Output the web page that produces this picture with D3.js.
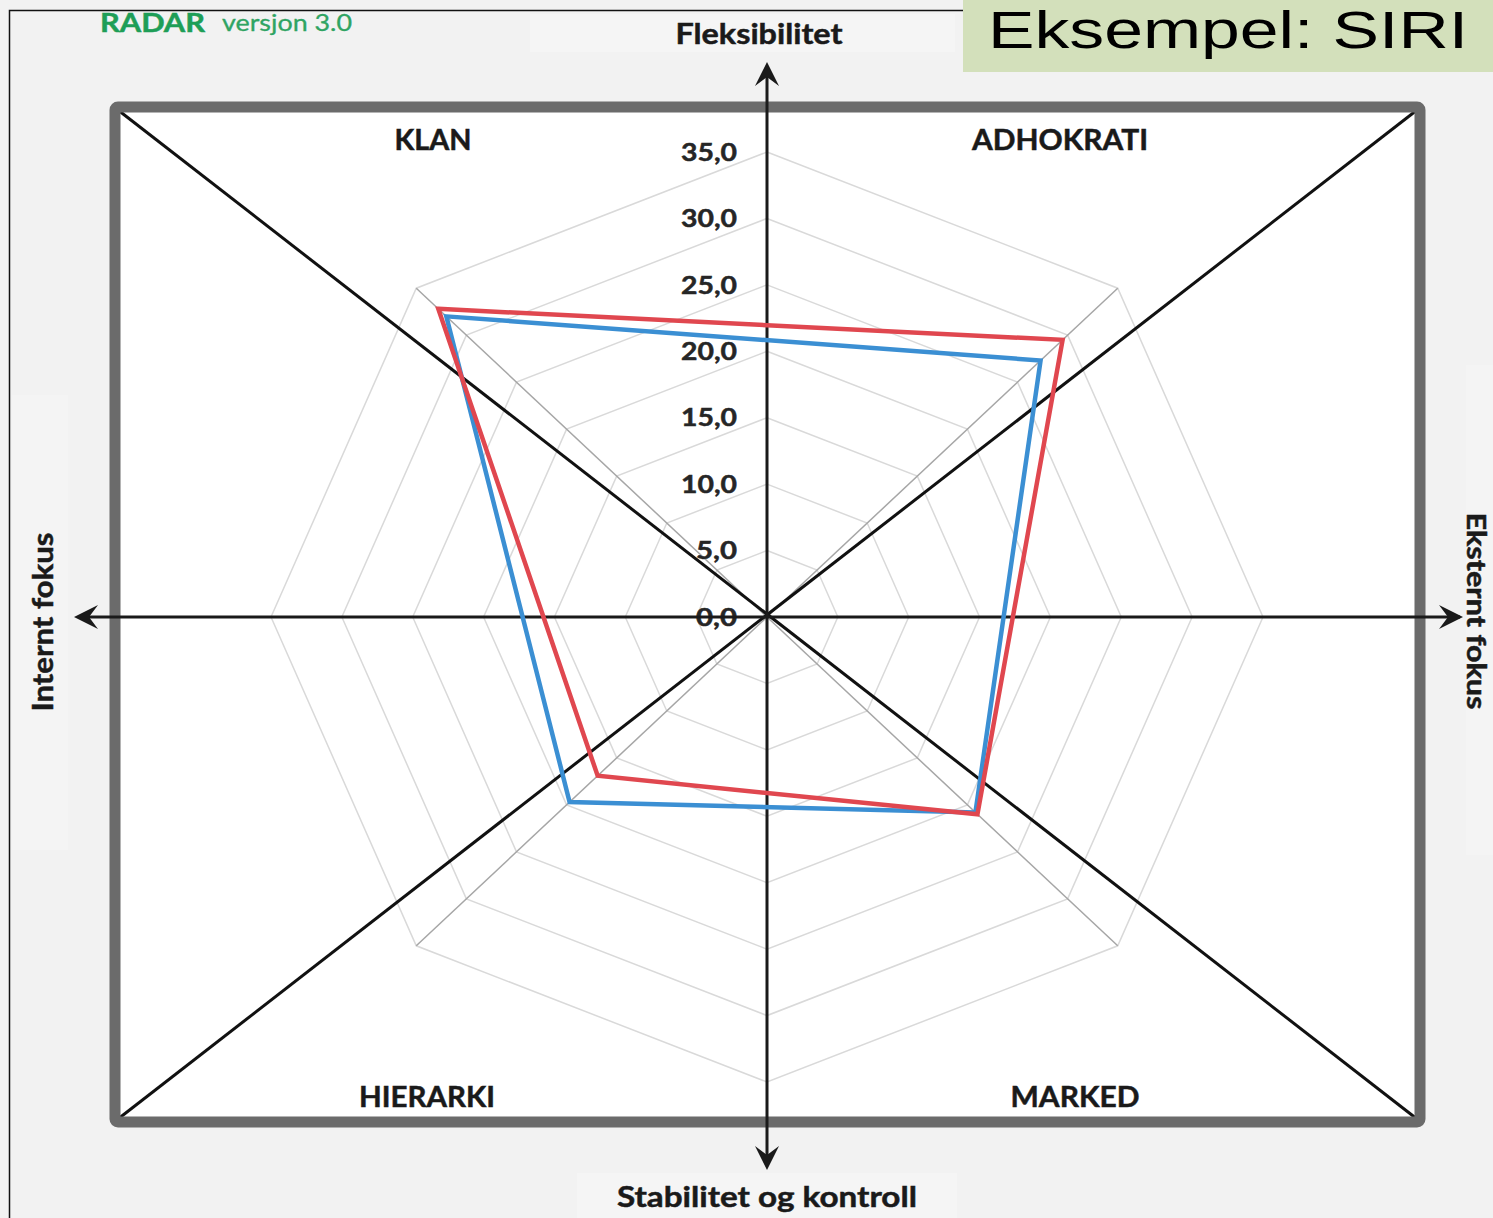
<!DOCTYPE html>
<html><head><meta charset="utf-8">
<script src="https://cdn.jsdelivr.net/npm/d3@7"></script>
<style>html,body{margin:0;padding:0;background:#f2f2f2;overflow:hidden}</style>
</head><body>
<svg id="chart" width="1493" height="1218"></svg>
<script>
// ---- data ----
const categories = ["KLAN", "ADHOKRATI", "MARKED", "HIERARKI"];
const categoryAngles = [-45, 45, 135, 225];
const seriesRed = [32.8, 29.5, 21.0, 16.9];
const seriesBlue = [32.0, 27.3, 20.8, 19.7];
const tickValues = [0, 5, 10, 15, 20, 25, 30, 35];
const tickLabels = ["0,0", "5,0", "10,0", "15,0", "20,0", "25,0", "30,0", "35,0"];
const gridAngles = [0, 45, 90, 135, 180, 225, 270, 315];
const axisTitles = ["Fleksibilitet", "Eksternt fokus", "Stabilitet og kontroll", "Internt fokus"];

// ---- layout ----
const W = 1493, H = 1218, cx = 767, cy = 617;
const svg = d3.select("#chart");
const x = d3.scaleLinear().domain([-35, 35]).range([cx - 496, cx + 496]);
const y = d3.scaleLinear().domain([-35, 35]).range([cy + 465, cy - 465]);
const pt = (v, deg) => { const a = deg * Math.PI / 180; return [x(v * Math.sin(a)), y(v * Math.cos(a))]; };
const font = "Lato, 'Open Sans', sans-serif";
const ink = "#1a1a1a";
function boldText(sel, size, len, col) {
  return sel.attr("font-family", font).attr("font-weight", 700).attr("font-size", size)
    .attr("fill", col || ink).attr("stroke", col || ink).attr("stroke-width", 0.5)
    .attr("textLength", len).attr("lengthAdjust", "spacingAndGlyphs");
}

svg.append("rect").attr("width", W).attr("height", H).attr("fill", "#f2f2f2");
// faint label boxes
svg.append("rect").attr("x", 530).attr("y", 14).attr("width", 425).attr("height", 38).attr("fill", "#f5f5f5");
svg.append("rect").attr("x", 577).attr("y", 1173).attr("width", 380).attr("height", 45).attr("fill", "#f5f5f5");
svg.append("rect").attr("x", 12).attr("y", 395).attr("width", 56).attr("height", 455).attr("fill", "#f4f4f4");
svg.append("rect").attr("x", 1466).attr("y", 365).attr("width", 27).attr("height", 490).attr("fill", "#f4f4f4");

// thin outer frame
svg.append("path").attr("d", "M9.5,1218 V10.5 H964").attr("fill", "none").attr("stroke", "#111").attr("stroke-width", 1.5);

// green title box
svg.append("rect").attr("x", 963).attr("y", 0).attr("width", W - 963).attr("height", 72).attr("fill", "#d3e0bb");
svg.append("text").attr("transform", "translate(988,48) scale(1.34,1)")
  .attr("font-family", "'Liberation Sans', Arial, sans-serif")
  .attr("font-size", 52).attr("fill", "#000").text("Eksempel: SIRI");

// RADAR versjon
boldText(svg.append("text").attr("x", 100).attr("y", 32), 27, 105, "#1e9e57").text("RADAR");
svg.append("text").attr("x", 222).attr("y", 31).attr("font-family", font).attr("font-weight", 400)
  .attr("font-size", 23).attr("fill", "#2fa463").attr("stroke", "#2fa463").attr("stroke-width", 0.3)
  .attr("textLength", 130).attr("lengthAdjust", "spacingAndGlyphs").text("versjon 3.0");

// plot rectangle (white)
const rx0 = 115, ry0 = 107, rx1 = 1420, ry1 = 1122;
svg.append("rect").attr("x", rx0).attr("y", ry0).attr("width", rx1 - rx0).attr("height", ry1 - ry0).attr("fill", "#fff");

// grid rings
const ringLine = d3.line();
svg.append("g").selectAll("path").data(tickValues.filter(v => v > 0)).join("path")
  .attr("d", v => ringLine(gridAngles.map(a => pt(v, a))) + "Z")
  .attr("fill", "none").attr("stroke", "#d9d9d9").attr("stroke-width", 1.5);
// spokes
svg.append("g").selectAll("line").data(gridAngles).join("line")
  .attr("x1", cx).attr("y1", cy)
  .attr("x2", a => pt(35, a)[0]).attr("y2", a => pt(35, a)[1])
  .attr("stroke", "#a6a6a6").attr("stroke-width", 1.5);

// tick labels
boldText(svg.append("g").selectAll("text").data(tickValues).join("text")
  .attr("x", 737).attr("y", v => y(v)).attr("dy", "0.35em").attr("text-anchor", "end"),
  25, (v, i) => tickLabels[i].length === 4 ? 56 : 41, "#262626")
  .text((v, i) => tickLabels[i]);

// diagonals
svg.append("line").attr("x1", rx0 + 3).attr("y1", ry0 + 3).attr("x2", rx1 - 3).attr("y2", ry1 - 3)
  .attr("stroke", "#111").attr("stroke-width", 3);
svg.append("line").attr("x1", rx1 - 3).attr("y1", ry0 + 3).attr("x2", rx0 + 3).attr("y2", ry1 - 3)
  .attr("stroke", "#111").attr("stroke-width", 3);

// thick rectangle border
svg.append("rect").attr("x", rx0).attr("y", ry0).attr("width", rx1 - rx0).attr("height", ry1 - ry0)
  .attr("rx", 3).attr("fill", "none").attr("stroke", "#6b6b6b").attr("stroke-width", 11);

// axes with arrows
const axisCol = "#1a1a1a";
svg.append("line").attr("x1", cx).attr("y1", 66).attr("x2", cx).attr("y2", 1166).attr("stroke", axisCol).attr("stroke-width", 3);
svg.append("line").attr("x1", 78).attr("y1", cy).attr("x2", 1460).attr("y2", cy).attr("stroke", axisCol).attr("stroke-width", 3);
function arrow(tx, ty, rot) {
  svg.append("path").attr("d", "M0,0 L-12,24 L0,15 L12,24 Z")
    .attr("transform", `translate(${tx},${ty}) rotate(${rot})`).attr("fill", axisCol);
}
arrow(cx, 62, 0); arrow(1463, cy, 90); arrow(cx, 1170, 180); arrow(74, cy, 270);

// series polygons
const polyLine = d3.line();
function series(vals, col) {
  svg.append("path").attr("d", polyLine(vals.map((v, i) => pt(v, categoryAngles[i]))) + "Z")
    .attr("fill", "none").attr("stroke", col).attr("stroke-width", 4.5).attr("stroke-linejoin", "miter");
}
series(seriesBlue, "#3b8fd3");
series(seriesRed, "#e0474f");

// quadrant labels
const quadPos = [[433, 140], [1060, 140], [1075, 1097], [427, 1097]];
const quadLen = [77, 176, 129, 136];
boldText(svg.append("g").selectAll("text").data(categories).join("text")
  .attr("x", (d, i) => quadPos[i][0]).attr("y", (d, i) => quadPos[i][1]).attr("dy", "0.35em")
  .attr("text-anchor", "middle"), 29, (d, i) => quadLen[i]).text(d => d);

// axis titles
const tfs = 29;
boldText(svg.append("text").attr("x", 759).attr("y", 34).attr("dy", "0.35em").attr("text-anchor", "middle"), tfs, 167)
  .text(axisTitles[0]);
boldText(svg.append("text").attr("transform", `translate(1476,611) rotate(90)`).attr("dy", "0.35em").attr("text-anchor", "middle"), 26, 197)
  .text(axisTitles[1]);
boldText(svg.append("text").attr("x", 767).attr("y", 1197).attr("dy", "0.35em").attr("text-anchor", "middle"), tfs, 300)
  .text(axisTitles[2]);
boldText(svg.append("text").attr("transform", `translate(43,622) rotate(-90)`).attr("dy", "0.35em").attr("text-anchor", "middle"), tfs, 179)
  .text(axisTitles[3]);
</script>
</body></html>
